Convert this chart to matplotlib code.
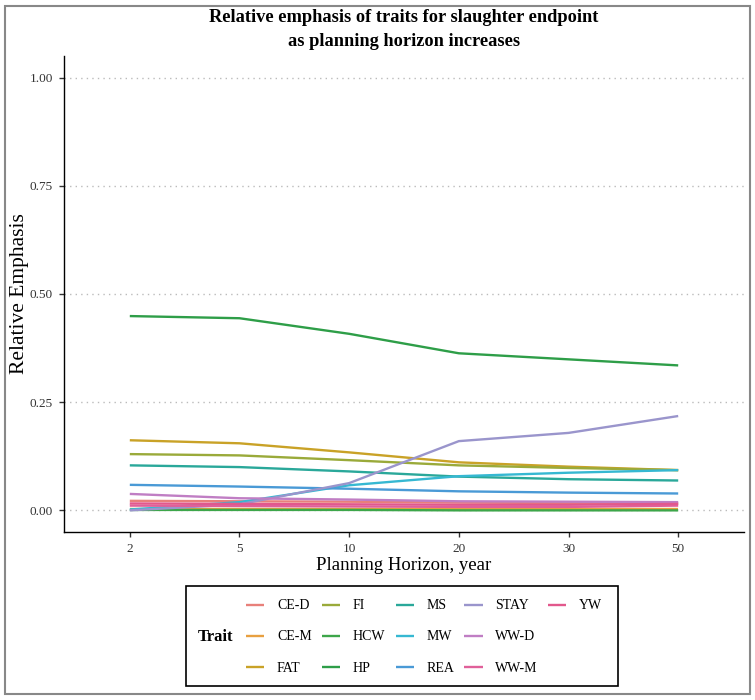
import matplotlib
matplotlib.use("Agg")
import matplotlib.pyplot as plt
from matplotlib.lines import Line2D
from matplotlib.patches import Rectangle

horizons = ["2", "5", "10", "20", "30", "50"]
traits = ["CE-D", "CE-M", "FAT", "FI", "HCW", "HP", "MS", "MW", "REA", "STAY", "WW-D", "WW-M", "YW"]

ce_d = [0.022, 0.021, 0.020, 0.018, 0.017, 0.016]
ce_m = [0.003, 0.003, 0.003, 0.003, 0.003, 0.003]
fat = [0.162, 0.155, 0.134, 0.111, 0.101, 0.093]
fi = [0.130, 0.127, 0.116, 0.104, 0.098, 0.093]
hcw = [0.001, 0.001, 0.001, 0.000, 0.000, 0.000]
hp = [0.449, 0.444, 0.408, 0.363, 0.349, 0.335]
ms = [0.104, 0.100, 0.090, 0.078, 0.072, 0.069]
mw = [0.002, 0.019, 0.058, 0.079, 0.087, 0.093]
rea = [0.059, 0.055, 0.050, 0.044, 0.041, 0.039]
stay = [0.000, 0.014, 0.063, 0.160, 0.179, 0.218]
ww_d = [0.038, 0.028, 0.025, 0.021, 0.020, 0.019]
ww_m = [0.011, 0.010, 0.009, 0.008, 0.008, 0.011]
yw = [0.016, 0.015, 0.014, 0.013, 0.013, 0.015]

series = [ce_d, ce_m, fat, fi, hcw, hp, ms, mw, rea, stay, ww_d, ww_m, yw]
colors = ["#E8807A", "#E8A040", "#C9A227", "#9AAA3A", "#3DA64A", "#2E9E48",
          "#2AA89A", "#36B8D2", "#4A9AD6", "#9A95CC", "#C07EC4", "#E0609A", "#E2588C"]

yticks = [0.00, 0.25, 0.50, 0.75, 1.00]
ytick_labels = ["0.00", "0.25", "0.50", "0.75", "1.00"]

serif = ["Liberation Serif", "DejaVu Serif"]
plt.rcParams["font.family"] = serif

fig = plt.figure(figsize=(7.55, 7.0), dpi=100)
ax = fig.add_axes([64 / 755, 1 - 532 / 700, (744 - 64) / 755, (532 - 56) / 700])

xs = list(range(len(horizons)))
for name, vals, c in zip(traits, series, colors):
    ax.plot(xs, vals, color=c, lw=1.7, label=name, solid_capstyle="butt")

ax.set_xlim(-0.6, len(horizons) - 1 + 0.6)
ax.set_ylim(-0.05, 1.05)
ax.set_xticks(xs)
ax.set_xticklabels(horizons, fontsize=9.5, color="#333333")
ax.set_yticks(yticks)
ax.set_yticklabels(ytick_labels, fontsize=9.5, color="#333333")
ax.grid(axis="y", linestyle=(0, (1, 3)), color="#BBBBBB", lw=1.0)
ax.set_axisbelow(True)
for s in ["top", "right"]:
    ax.spines[s].set_visible(False)
for s in ["left", "bottom"]:
    ax.spines[s].set_linewidth(1.0)
ax.tick_params(axis="both", length=3.5, width=1.0, color="#333333", pad=4.5)
ax.set_xlabel("Planning Horizon, year", fontsize=13.5, labelpad=1)
ax.set_ylabel("Relative Emphasis", fontsize=15.5, va="center")
ax.yaxis.set_label_coords((20 - 64) / 680, 0.5)

fig.text(404 / 755, 1 - 9 / 700,
         "Relative emphasis of traits for slaughter endpoint\nas planning horizon increases",
         fontsize=13.2, fontweight="bold", ha="center", va="top", linespacing=1.5,
         multialignment="center")

# legend
handles, labels = ax.get_legend_handles_labels()
blank = Line2D([], [], color="none")
handles = handles + [blank, blank]
labels = labels + ["", ""]
leg = fig.legend(handles, labels, ncol=5, loc="center", bbox_to_anchor=(424 / 755, 1 - 637 / 700),
                 frameon=False, fontsize=10, handlelength=1.3, handletextpad=0.9,
                 columnspacing=0.75, labelspacing=1.3, borderpad=0)
fig.text(216 / 755, 1 - 637 / 700, "Trait", fontsize=12, fontweight="bold", ha="center", va="center")
fig.add_artist(Rectangle((186 / 755, 1 - 686 / 700), (618 - 186) / 755, (686 - 586) / 700,
                         transform=fig.transFigure, fill=False, edgecolor="black", lw=1.2))
fig.add_artist(Rectangle((5 / 755, 6 / 700), 745 / 755, 688 / 700,
                         transform=fig.transFigure, fill=False, edgecolor="#888888", lw=1.5))

fig.savefig("out.png", dpi=100)
